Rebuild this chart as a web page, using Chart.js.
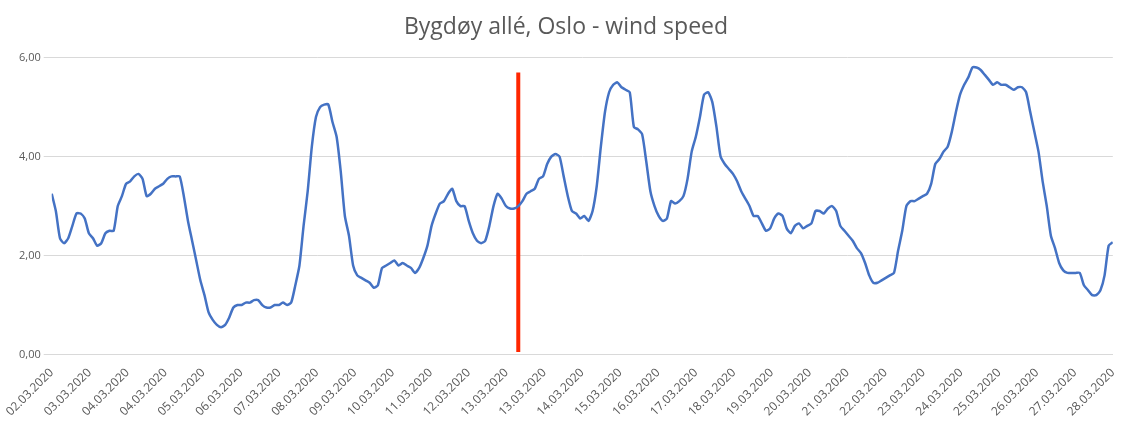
<!DOCTYPE html>
<html><head><meta charset="utf-8">
<script src="https://cdn.jsdelivr.net/npm/chart.js@4"></script>
<style>html,body{margin:0;padding:0;background:#fff}#w{width:1126px;height:432px}</style>
</head><body><div id="w"><canvas id="c"></canvas></div>
<script>
const tickLabels=["02.03.2020","03.03.2020","04.03.2020","04.03.2020","05.03.2020","06.03.2020","07.03.2020","08.03.2020","09.03.2020","10.03.2020","11.03.2020","12.03.2020","13.03.2020","13.03.2020","14.03.2020","15.03.2020","16.03.2020","17.03.2020","18.03.2020","19.03.2020","20.03.2020","21.03.2020","22.03.2020","23.03.2020","24.03.2020","25.03.2020","26.03.2020","27.03.2020","28.03.2020"];
const windSpeed=[3.25,2.9,2.35,2.25,2.35,2.6,2.85,2.85,2.75,2.45,2.35,2.2,2.25,2.45,2.5,2.5,3.0,3.2,3.45,3.5,3.6,3.65,3.55,3.2,3.25,3.35,3.4,3.45,3.55,3.6,3.6,3.6,3.2,2.7,2.3,1.9,1.5,1.2,0.85,0.7,0.6,0.55,0.6,0.75,0.95,1.0,1.0,1.05,1.05,1.1,1.1,1.0,0.95,0.95,1.0,1.0,1.05,1.0,1.05,1.4,1.8,2.6,3.3,4.2,4.8,5.0,5.05,5.05,4.7,4.4,3.7,2.8,2.4,1.8,1.6,1.55,1.5,1.45,1.35,1.4,1.75,1.8,1.85,1.9,1.8,1.85,1.8,1.75,1.65,1.75,1.95,2.2,2.6,2.85,3.05,3.1,3.25,3.35,3.1,3.0,3.0,2.7,2.45,2.3,2.25,2.3,2.6,3.0,3.25,3.15,3.0,2.95,2.95,3.0,3.1,3.25,3.3,3.35,3.55,3.6,3.85,4.0,4.05,4.0,3.6,3.2,2.9,2.85,2.75,2.8,2.7,2.9,3.4,4.2,4.9,5.3,5.45,5.5,5.4,5.35,5.3,4.6,4.55,4.45,3.9,3.3,3.0,2.8,2.7,2.75,3.1,3.05,3.1,3.2,3.55,4.1,4.4,4.8,5.25,5.3,5.1,4.6,4.0,3.85,3.75,3.65,3.5,3.3,3.15,3.0,2.8,2.8,2.65,2.5,2.55,2.75,2.85,2.8,2.55,2.45,2.6,2.65,2.55,2.6,2.65,2.9,2.9,2.85,2.95,3.0,2.9,2.6,2.5,2.4,2.3,2.15,2.05,1.85,1.6,1.45,1.45,1.5,1.55,1.6,1.65,2.1,2.5,3.0,3.1,3.1,3.15,3.2,3.25,3.45,3.85,3.95,4.1,4.2,4.5,4.9,5.25,5.45,5.6,5.8,5.8,5.75,5.65,5.55,5.45,5.5,5.45,5.45,5.4,5.35,5.4,5.4,5.3,4.9,4.5,4.1,3.5,3.0,2.4,2.15,1.85,1.7,1.65,1.65,1.65,1.65,1.4,1.3,1.2,1.2,1.3,1.6,2.2,2.27];
const markerIndex=113;
const markerRange=[0.05,5.7];
const N=windSpeed.length;
const step=(N-1)/(tickLabels.length-1);
new Chart(document.getElementById('c'),{
 type:'line',
 data:{datasets:[
  {data:windSpeed.map((v,i)=>({x:i,y:v})),borderColor:'#4472C4',borderWidth:2.5,pointRadius:0,tension:0.2},
  {data:markerRange.map(y=>({x:markerIndex,y})),borderColor:'#FF2600',borderWidth:4,pointRadius:0}
 ]},
 options:{responsive:true,maintainAspectRatio:false,animation:false,
  layout:{padding:{left:16,right:10,top:6,bottom:10}},
  plugins:{legend:{display:false},tooltip:{enabled:false},
   title:{display:true,text:'Bygdøy allé, Oslo - wind speed',color:'#595959',font:{family:'Open Sans',size:23,weight:'normal'},padding:{top:8,bottom:16}}},
  scales:{
   x:{type:'linear',min:0,max:N-1,
    afterBuildTicks:a=>{a.ticks=tickLabels.map((t,i)=>({value:i*step}));},
    ticks:{autoSkip:false,maxRotation:45,minRotation:45,color:'#595959',font:{family:'Open Sans',size:12},callback:(v,i)=>tickLabels[i]},
    grid:{display:false},border:{color:'#d9d9d9'}},
   y:{min:0,max:6,ticks:{stepSize:2,color:'#595959',font:{family:'Open Sans',size:11},callback:v=>v.toFixed(2).replace('.',',')},
    grid:{color:'#d9d9d9'},border:{display:false}}
  }}
});
</script></body></html>
